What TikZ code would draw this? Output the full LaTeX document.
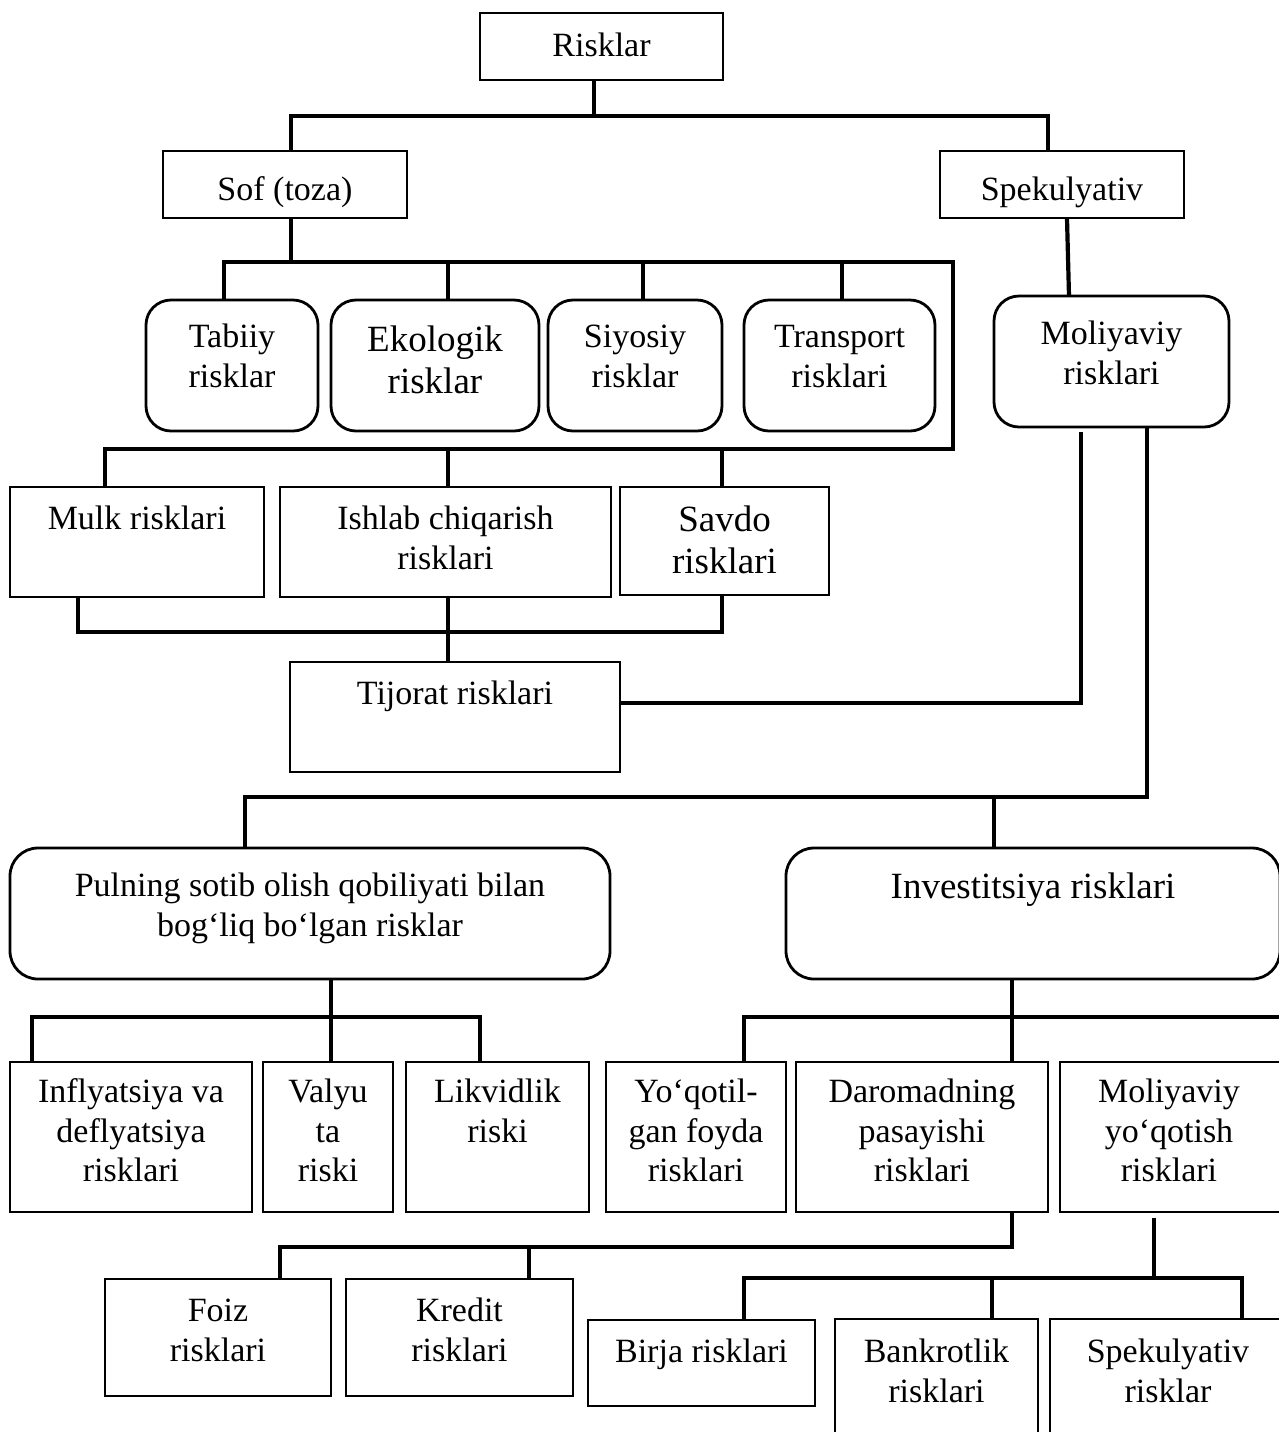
\documentclass[tikz,border=0pt]{standalone}
\usepackage{fontspec}
\setmainfont{Liberation Serif}
\usetikzlibrary{fit}
\newcommand\fsn{\fontsize{17pt}{19.75pt}\selectfont}
\newcommand\fsb{\fontsize{18.5pt}{21pt}\selectfont}

\begin{document}
\begin{tikzpicture}[x=0.5pt,y=-0.5pt,
  box/.style={draw, line width=1.4pt, inner sep=0pt, outer sep=0pt},
  rbox/.style={box, rounded corners=12.5pt},
  wbox/.style={box, rounded corners=14pt},
  conn/.style={draw, line width=2.1pt},
  tn/.style={anchor=north, inner sep=0pt, outer sep=0pt, align=center, font=\fsn},
  tb/.style={tn, font=\fsb}]
\useasboundingbox (0,0) rectangle (1279,1432);

% ---------- boxes ----------
\node[box,  fit={(480,13)(723,80)}]      (risk)   {};
\node[box,  fit={(163,151)(407,218)}]    (sof)    {};
\node[box,  fit={(940,151)(1184,218)}]   (spek)   {};
\node[rbox, fit={(146,300)(318,431)}]    (tab)    {};
\node[rbox, fit={(331,300)(539,431)}]    (ekol)   {};
\node[rbox, fit={(548,300)(722,431)}]    (siyo)   {};
\node[rbox, fit={(744,300)(935,431)}]    (trans)  {};
\node[rbox, fit={(994,296)(1229,427)}]   (moliy)  {};
\node[box,  fit={(10,487)(264,597)}]     (mulk)   {};
\node[box,  fit={(280,487)(611,597)}]    (ishlab) {};
\node[box,  fit={(620,487)(829,595)}]    (savdo)  {};
\node[box,  fit={(290,662)(620,772)}]    (tij)    {};
\node[wbox, fit={(10,848)(610,979)}]     (pul)    {};
\node[wbox, fit={(786,848)(1280,979)}]   (inv)    {};
\node[box,  fit={(10,1062)(252,1212)}]   (infl)   {};
\node[box,  fit={(263,1062)(393,1212)}]  (valyu)  {};
\node[box,  fit={(406,1062)(589,1212)}]  (likv)   {};
\node[box,  fit={(606,1062)(786,1212)}]  (yoq)    {};
\node[box,  fit={(796,1062)(1048,1212)}] (darom)  {};
\node[box,  fit={(1060,1062)(1290,1212)}](molyoq) {};
\node[box,  fit={(105,1279)(331,1396)}]  (foiz)   {};
\node[box,  fit={(346,1279)(573,1396)}]  (kredit) {};
\node[box,  fit={(588,1320)(815,1406)}]  (birja)  {};
\node[box,  fit={(835,1319)(1038,1450)}] (bank)   {};
\node[box,  fit={(1050,1319)(1290,1450)}](spekr)  {};

% ---------- texts ----------
\node[tn] (risk-t)   at (601.5,29)   {\strut Risklar};
\node[tn] (sof-t)    at (285,173)    {\strut Sof (toza)};
\node[tn] (spek-t)   at (1062,173)   {\strut Spekulyativ};
\node[tn] (tab-t)    at (232,320)    {\strut Tabiiy\\risklar};
\node[tb] (ekol-t)   at (435,321.6)  {\strut Ekologik\\risklar};
\node[tn] (siyo-t)   at (635,320)    {\strut Siyosiy\\risklar};
\node[tn] (trans-t)  at (839.5,320)  {\strut Transport\\risklari};
\node[tn] (moliy-t)  at (1111.5,317) {\strut Moliyaviy\\risklari};
\node[tn] (mulk-t)   at (137,502)    {\strut Mulk risklari};
\node[tn] (ishlab-t) at (445.5,502)  {\strut Ishlab chiqarish\\risklari};
\node[tb] (savdo-t)  at (724.5,501.6){\strut Savdo\\risklari};
\node[tn] (tij-t)    at (455,677)    {\strut Tijorat risklari};
\node[tn] (pul-t)    at (310,869)    {\strut Pulning sotib olish qobiliyati bilan\\bog‘liq bo‘lgan risklar};
\node[tb] (inv-t)    at (1033,868.6) {\strut Investitsiya risklari};
\node[tn] (infl-t)   at (131,1075)   {\strut Inflyatsiya va\\deflyatsiya\\risklari};
\node[tn] (valyu-t)  at (328,1075)   {\strut Valyu\\ta\\riski};
\node[tn] (likv-t)   at (497.5,1075) {\strut Likvidlik\\riski};
\node[tn] (yoq-t)    at (696,1075)   {\strut Yo‘qotil-\\gan foyda\\risklari};
\node[tn] (darom-t)  at (922,1075)   {\strut Daromadning\\pasayishi\\risklari};
\node[tn] (molyoq-t) at (1169,1075)  {\strut Moliyaviy\\yo‘qotish\\risklari};
\node[tn] (foiz-t)   at (218,1294)   {\strut Foiz\\risklari};
\node[tn] (kredit-t) at (459.5,1294) {\strut Kredit\\risklari};
\node[tn] (birja-t)  at (701.5,1335) {\strut Birja risklari};
\node[tn] (bank-t)   at (936.5,1335) {\strut Bankrotlik\\risklari};
\node[tn] (spekr-t)  at (1168,1335)  {\strut Spekulyativ\\risklar};

% ---------- connectors ----------
% top level
\draw[conn] (594,0 |- risk.south) -- (594,116);
\draw[conn] (291,0 |- sof.north) |- (1048,116) -- (1048,0 |- spek.north);
\draw[conn] (1067,0 |- spek.south) -- (1069,0 |- moliy.north);

% pure risks frame
\draw[conn] (291,0 |- sof.south) -- (291,262);
\draw[conn] (224,0 |- tab.north) |- (953,262) |- (105,449) -- (105,0 |- mulk.north);
\draw[conn] (448,262) -- (448,0 |- ekol.north);
\draw[conn] (643,262) -- (643,0 |- siyo.north);
\draw[conn] (842,262) -- (842,0 |- trans.north);
\draw[conn] (448,449) -- (448,0 |- ishlab.north);
\draw[conn] (722,449) -- (722,0 |- savdo.north);

% commercial risks
\draw[conn] (78,0 |- mulk.south) |- (722,632) -- (722,0 |- savdo.south);
\draw[conn] (448,0 |- ishlab.south) -- (448,0 |- tij.north);
\coordinate (mgap) at (1081,432);
\draw[conn] (tij.east |- 0,703) -| (mgap);

% financial risks
\draw[conn] (1147,0 |- moliy.south) |- (245,797) -- (245,0 |- pul.north);
\draw[conn] (994,797) -- (994,0 |- inv.north);

% purchasing power branch
\draw[conn] (331,0 |- pul.south) -- (331,0 |- valyu.north);
\draw[conn] (32,0 |- infl.north) |- (480,1017) -- (480,0 |- likv.north);

% investment branch
\coordinate (iedge) at (1290,1017);
\draw[conn] (1012,0 |- inv.south) -- (1012,0 |- darom.north);
\draw[conn] (744,0 |- yoq.north) |- (iedge);

% income decline branch
\draw[conn] (1012,0 |- darom.south) |- (280,1247) -- (280,0 |- foiz.north);
\draw[conn] (529,1247) -- (529,0 |- kredit.north);

% financial loss branch
\draw[conn] (1154,1218) -- (1154,1278);
\draw[conn] (744,0 |- birja.north) |- (1242,1278) -- (1242,0 |- spekr.north);
\draw[conn] (992,1278) -- (992,0 |- bank.north);
\end{tikzpicture}
\end{document}
